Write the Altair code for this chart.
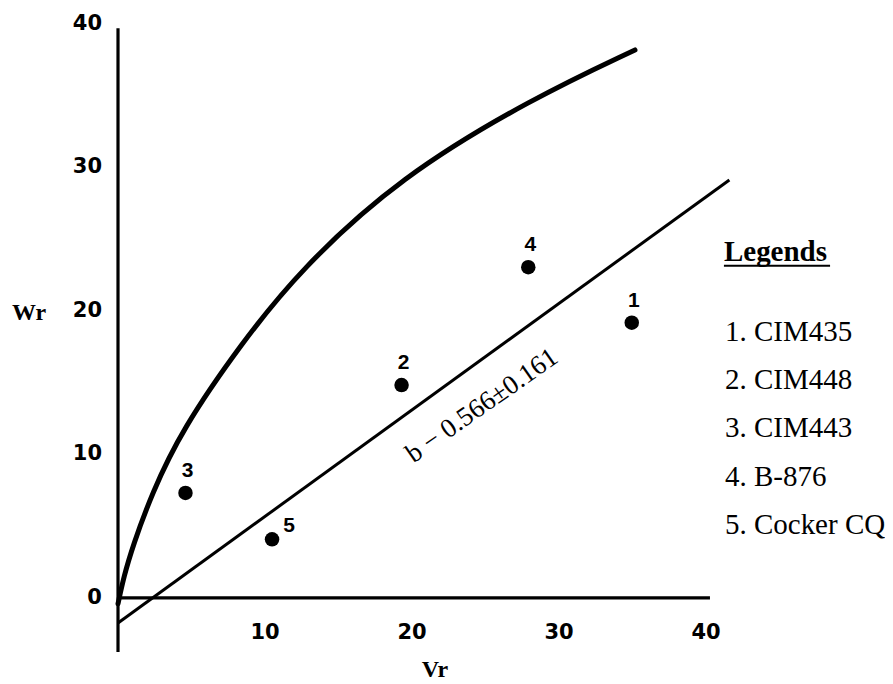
import altair as alt
import pandas as pd

# ---- data ----
point_id = ["1", "2", "3", "4", "5"]
point_vr = [34.95, 19.29, 4.59, 27.91, 10.48]
point_wr = [19.18, 14.84, 7.32, 23.05, 4.09]

curve_vr = [0.0, 0.4, 1.0, 2.29, 4.33, 8.41, 12.38, 19.18, 28.23, 35.17]
curve_wr = [-0.4, 1.5, 3.6, 7.25, 11.71, 17.77, 22.86, 29.34, 34.84, 38.19]

reg_vr = [0.0, 41.59]
reg_wr = [-1.74, 29.13]

x_ticks = [10, 20, 30, 40]
y_ticks = [0, 10, 20, 30, 40]

legend_title = "Legends"
legend_items = ["1. CIM435", "2. CIM448", "3. CIM443", "4. B-876", "5. Cocker CQ"]
legend_wr = [18.56, 15.19, 11.83, 8.45, 5.09]

slope_label = "b \u2212 0.566\u00b10.161"

XD = [0, 44]
YD = [-5.5, 40.5]

xs = alt.Scale(domain=XD, nice=False, zero=False)
ys = alt.Scale(domain=YD, nice=False, zero=False)


def X(f="Vr"):
    return alt.X(f"{f}:Q", scale=xs, axis=None)


def Y(f="Wr"):
    return alt.Y(f"{f}:Q", scale=ys, axis=None)


pts = pd.DataFrame({"id": point_id, "Vr": point_vr, "Wr": point_wr})
curve = pd.DataFrame({"Vr": curve_vr, "Wr": curve_wr, "o": list(range(len(curve_vr)))})
reg = pd.DataFrame({"Vr": reg_vr, "Wr": reg_wr})

yaxis_line = alt.Chart(pd.DataFrame({"Vr": [0.0], "Wr": [-3.76], "Wr2": [39.7]})).mark_rule(
    color="black", strokeWidth=3.2).encode(x=X(), y=Y(), y2="Wr2:Q")

xaxis_line = alt.Chart(pd.DataFrame({"Vr": [0.0], "Vr2": [40.27], "Wr": [0.0]})).mark_rule(
    color="black", strokeWidth=3.2).encode(x=X(), x2="Vr2:Q", y=Y())

ylabels = alt.Chart(pd.DataFrame({"Wr": y_ticks, "Vr": [-1.09] * len(y_ticks),
                                  "t": [str(v) for v in y_ticks]})).mark_text(
    font="DejaVu Sans", fontWeight="bold", fontSize=21, color="black", align="right", baseline="middle"
).encode(x=X(), y=Y(), text="t:N")

xlabels = alt.Chart(pd.DataFrame({"Vr": x_ticks, "Wr": [-2.44] * len(x_ticks),
                                  "t": [str(v) for v in x_ticks]})).mark_text(
    font="DejaVu Sans", fontWeight="bold", fontSize=21, color="black", align="center", baseline="middle"
).encode(x=X(), y=Y(), text="t:N")

curve_line = alt.Chart(curve).mark_line(color="black", strokeWidth=5, interpolate="basis",
                                        strokeCap="round").encode(x=X(), y=Y(), order="o:Q")

reg_line = alt.Chart(reg).mark_line(color="black", strokeWidth=3).encode(x=X(), y=Y())

dots = alt.Chart(pts).mark_circle(color="black", size=210, opacity=1).encode(x=X(), y=Y())

lab_main = alt.Chart(pts[pts.id != "5"]).mark_text(
    font="Liberation Sans", fontWeight="bold", fontSize=21, color="black", dy=-22, dx=2
).encode(x=X(), y=Y(), text="id:N")
lab_5 = alt.Chart(pts[pts.id == "5"]).mark_text(
    font="Liberation Sans", fontWeight="bold", fontSize=21, color="black", dx=17, dy=-13
).encode(x=X(), y=Y(), text="id:N")

slope_txt = alt.Chart(pd.DataFrame({"Vr": [24.76], "Wr": [13.4], "t": [slope_label]})).mark_text(
    font="Liberation Serif", fontSize=27, color="black", angle=325, align="center", baseline="middle"
).encode(x=X(), y=Y(), text="t:N")

titles = alt.Chart(pd.DataFrame({"Vr": [21.56, -6.05], "Wr": [-5.02, 19.86], "t": ["Vr", "Wr"]})).mark_text(
    font="Liberation Serif", fontWeight="bold", fontSize=24, color="black", baseline="middle", align="center"
).encode(x=X(), y=Y(), text="t:N")

leg_title = alt.Chart(pd.DataFrame({"Vr": [41.22], "Wr": [24.11], "t": [legend_title]})).mark_text(
    font="Liberation Serif", fontWeight="bold", fontSize=29, color="black", align="left", baseline="middle"
).encode(x=X(), y=Y(), text="t:N")
leg_ul = alt.Chart(pd.DataFrame({"Vr": [41.22], "Vr2": [48.44], "Wr": [23.15]})).mark_rule(
    color="black", strokeWidth=2.2).encode(x=X(), x2="Vr2:Q", y=Y())
leg_items = alt.Chart(pd.DataFrame({"Vr": [41.29] * len(legend_items), "Wr": legend_wr,
                                    "t": legend_items})).mark_text(
    font="Liberation Serif", fontSize=29, color="black", align="left", baseline="middle"
).encode(x=X(), y=Y(), text="t:N")

chart = alt.layer(
    yaxis_line, xaxis_line, ylabels, xlabels, curve_line, reg_line, dots, lab_main, lab_5,
    slope_txt, titles, leg_title, leg_ul, leg_items
).properties(
    width=646.8, height=660.1,
    background="white",
    autosize=alt.AutoSizeParams(type="none"),
    padding={"left": 110, "top": 8.8, "right": 120, "bottom": 6},
).configure_view(stroke=None)

chart.save("out.html", embed_options={"renderer": "svg", "actions": False})
